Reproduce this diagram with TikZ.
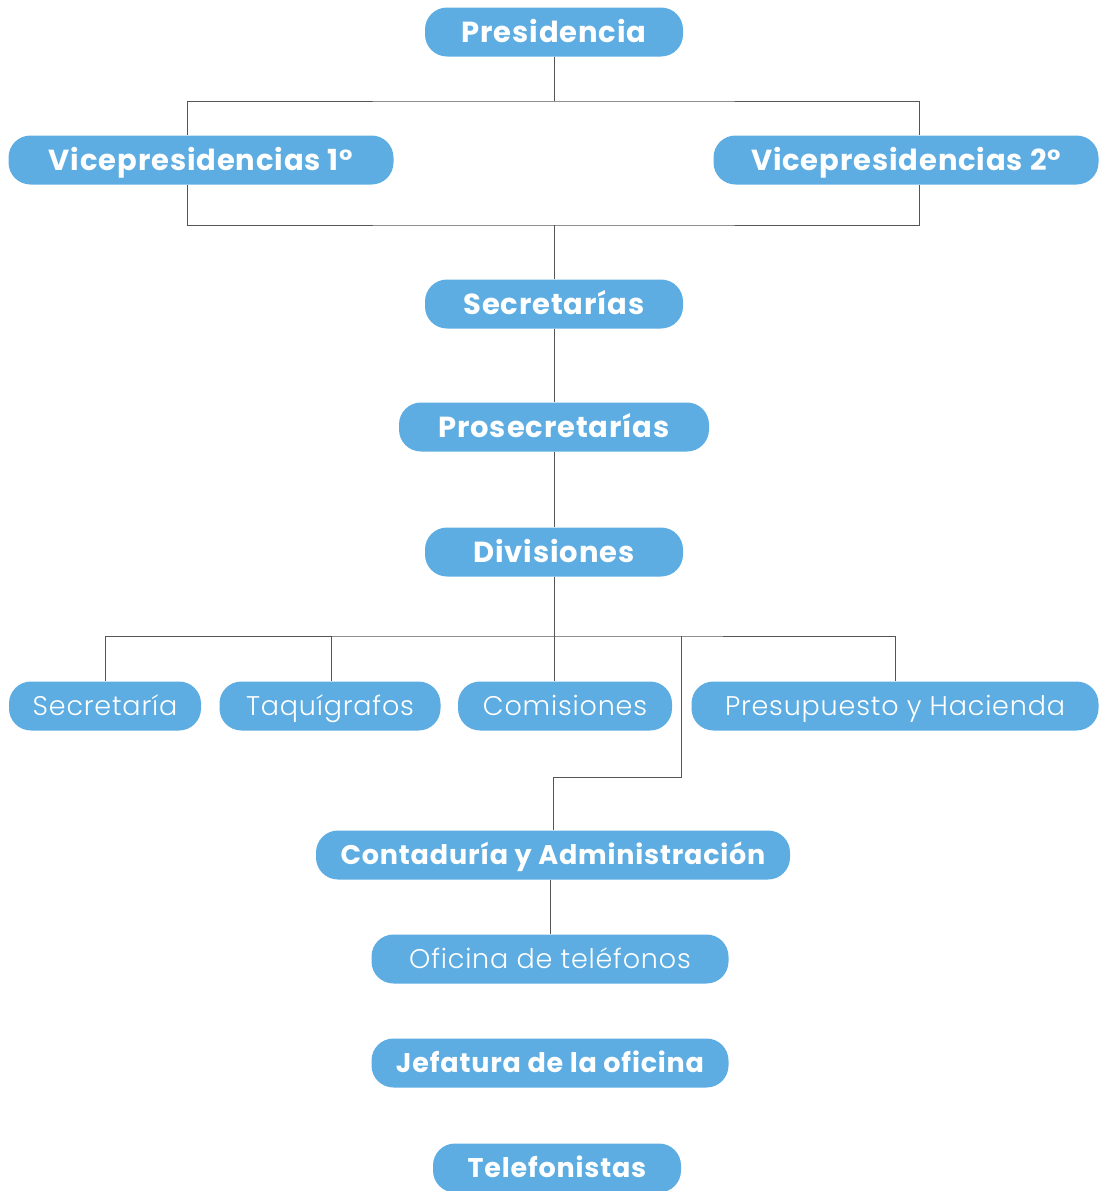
\documentclass[tikz,border=0pt]{standalone}
\usepackage{fontspec}
\setmainfont{Poppins}[LetterSpace=3]
\newfontfamily\lightface{Poppins}[UprightFont=* Light, LetterSpace=3]
\usetikzlibrary{positioning}
\definecolor{boxblue}{RGB}{93,173,226}
\definecolor{linegray}{RGB}{85,85,85}
\tikzset{
  unit/.style={rectangle, rounded corners=22pt, fill=boxblue, text=white, minimum height=49pt, inner sep=0pt, text depth=0pt},
  head/.style={unit, text height=20pt, font=\fontsize{29}{32}\selectfont\bfseries},
  office/.style={unit, text height=19pt, font=\fontsize{27}{30}\selectfont\bfseries},
  section/.style={unit, text height=19pt, font=\fontsize{27}{30}\selectfont\lightface},
  link/.style={draw=linegray, line width=1pt},
}

\begin{document}
\begin{tikzpicture}[x=1pt, y=-1pt]
  \useasboundingbox (0,0) rectangle (1102,1191);
  % upper levels
  \node [head, minimum width=258pt] (pres)   at (554,32)  {Presidencia};
  \node [head, minimum width=385pt] (vice1)  at (201,160) {Vicepresidencias 1°};
  \node [head, minimum width=385pt] (vice2)  at (906,160) {Vicepresidencias 2°};
  \node [head, minimum width=258pt] (secr)   at (554,304) {Secretarías};
  \node [head, minimum width=310pt] (prosec) at (554,427) {Prosecretarías};
  \node [head, minimum width=258pt] (div)    at (554,552) {Divisiones};
  % sections under the divisions
  \node [section, minimum width=192pt] (secretaria) at (105,706) {Secretaría};
  \node [section, minimum width=221pt] (taq)        at (330,706) {Taquígrafos};
  \node [section, minimum width=214pt] (com)        at (565,706) {Comisiones};
  \node [section, minimum width=407pt] (presup)     at (895,706) {Presupuesto y Hacienda};
  % lower levels
  \node [office, minimum width=474pt]  (cont) at (553,855)  {Contaduría y Administración};
  \node [section, minimum width=357pt] (ofi)  at (550,959)  {Oficina de teléfonos};
  \node [office, minimum width=357pt]  (jef)  at (550,1063) {Jefatura de la oficina};
  \node [office, minimum width=248pt]  (tel)  at (557,1168) {Telefonistas};

  % buses
  \coordinate (top bus)     at (554,101);
  \coordinate (mid bus)     at (554,225);
  \coordinate (div bus)     at (554,636);
  \coordinate (cont branch) at (681,636);
  \coordinate (cont turn)   at (553,777);

  \draw [link] (pres.south) -- (top bus);
  \draw [link] ([xshift=-14]vice1.north) |- (top bus) -| ([xshift=13]vice2.north);
  \draw [link] ([xshift=-14]vice1.south) |- (mid bus) -| ([xshift=13]vice2.south);
  \draw [link] (mid bus) -- (secr.north);
  \draw [link] (secr.south) -- (prosec.north);
  \draw [link] (prosec.south) -- (div.north);
  \draw [link] (div.south) -- (div bus);
  \draw [link] (secretaria.north) |- (div bus) -| (presup.north);
  \draw [link] ([xshift=1]taq.north) -- ([xshift=1]taq.north |- div bus);
  \draw [link] ([xshift=-11]com.north) -- (div bus);
  \draw [link] (cont branch) |- (cont turn) -- (cont.north);
  \draw [link] ([xshift=-3]cont.south) -- (ofi.north);
\end{tikzpicture}
\end{document}
